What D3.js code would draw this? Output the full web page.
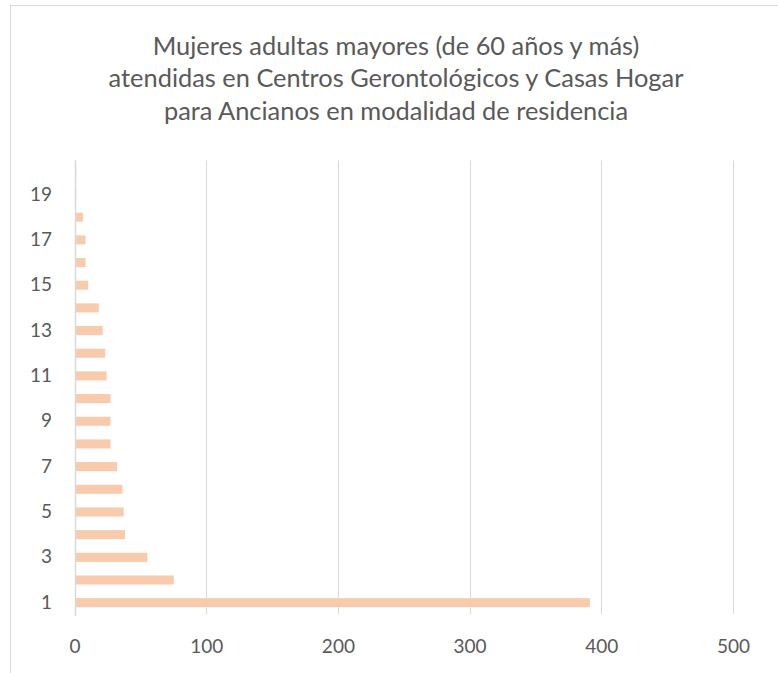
<!DOCTYPE html>
<html>
<head>
<meta charset="utf-8">
<script src="https://cdn.jsdelivr.net/npm/d3@7"></script>
<style>
  html, body { margin: 0; padding: 0; background: #fff; }
  svg { display: block; }
</style>
</head>
<body>
<svg id="chart" width="778" height="673"></svg>
<script>
const titleLines = [
  "Mujeres adultas mayores (de 60 años y más)",
  "atendidas en Centros Gerontológicos y Casas Hogar",
  "para Ancianos en modalidad de residencia"
];
const categories = ["1","2","3","4","5","6","7","8","9","10","11","12","13","14","15","16","17","18","19","20"];
const values = [391, 75, 55, 38, 37, 36, 32, 27, 27, 27, 24, 23, 21, 18, 10, 8, 8, 6, 1, 1];
const xTicks = [0, 100, 200, 300, 400, 500];
const yTickLabels = ["1","3","5","7","9","11","13","15","17","19"];

const svg = d3.select("#chart");
const font = "Lato, Carlito, Calibri, 'Open Sans', sans-serif";
const textColor = "#595959";
const gridColor = "#d9d9d9";

// chart border
svg.append("rect")
  .attr("x", 10.5).attr("y", 5.5)
  .attr("width", 800).attr("height", 700)
  .attr("fill", "none").attr("stroke", gridColor).attr("stroke-width", 1);

// title
const title = svg.append("g");
titleLines.forEach((t, i) => {
  title.append("text")
    .attr("x", 396).attr("y", 46 + i * 32.5)
    .attr("dy", "0.35em")
    .attr("text-anchor", "middle")
    .attr("font-family", font).attr("font-size", 25.4).attr("font-weight", 400)
    .attr("fill", textColor)
    .text(t);
});

const plot = { left: 74.5, right: 733, top: 160.5, bottom: 614 };

const x = d3.scaleLinear().domain([0, 500]).range([plot.left, plot.right]);
const y = d3.scaleBand().domain(categories.slice().reverse())
  .range([plot.top, plot.bottom]).paddingInner(0.6).paddingOuter(0.3);

// gridlines
svg.append("g")
  .selectAll("line").data(xTicks).join("line")
  .attr("x1", d => Math.round(x(d)) + 0.5).attr("x2", d => Math.round(x(d)) + 0.5)
  .attr("y1", plot.top).attr("y2", plot.bottom)
  .attr("stroke", gridColor).attr("stroke-width", 1);

// bars
svg.append("g")
  .selectAll("rect").data(categories.map((c, i) => ({ c, v: values[i] }))).join("rect")
  .attr("x", x(0) + 0.5)
  .attr("y", d => y(d.c))
  .attr("width", d => Math.max(0, x(d.v) - x(0)))
  .attr("height", y.bandwidth())
  .attr("fill", "#f8cbad");

// category axis line
svg.append("line")
  .attr("x1", Math.round(x(0)) + 0.5).attr("x2", Math.round(x(0)) + 0.5)
  .attr("y1", plot.top).attr("y2", plot.bottom + 2)
  .attr("stroke", gridColor).attr("stroke-width", 1.5);

// x axis labels
const xAxis = d3.axisBottom(x).tickValues(xTicks).tickSize(0).tickPadding(0);
const gx = svg.append("g").attr("transform", `translate(0, 646)`).call(xAxis);
gx.select(".domain").remove();
gx.selectAll("text")
  .attr("dy", "0.35em").attr("y", 0)
  .attr("font-family", font).attr("font-size", 19).attr("font-weight", 400).attr("fill", textColor);

// y axis labels
const yAxis = d3.axisLeft(y).tickValues(yTickLabels).tickSize(0).tickPadding(0);
const gy = svg.append("g").attr("transform", `translate(52, 0)`).call(yAxis);
gy.select(".domain").remove();
gy.selectAll("text")
  .attr("font-family", font).attr("font-size", 19).attr("font-weight", 400).attr("fill", textColor);
</script>
</body>
</html>
